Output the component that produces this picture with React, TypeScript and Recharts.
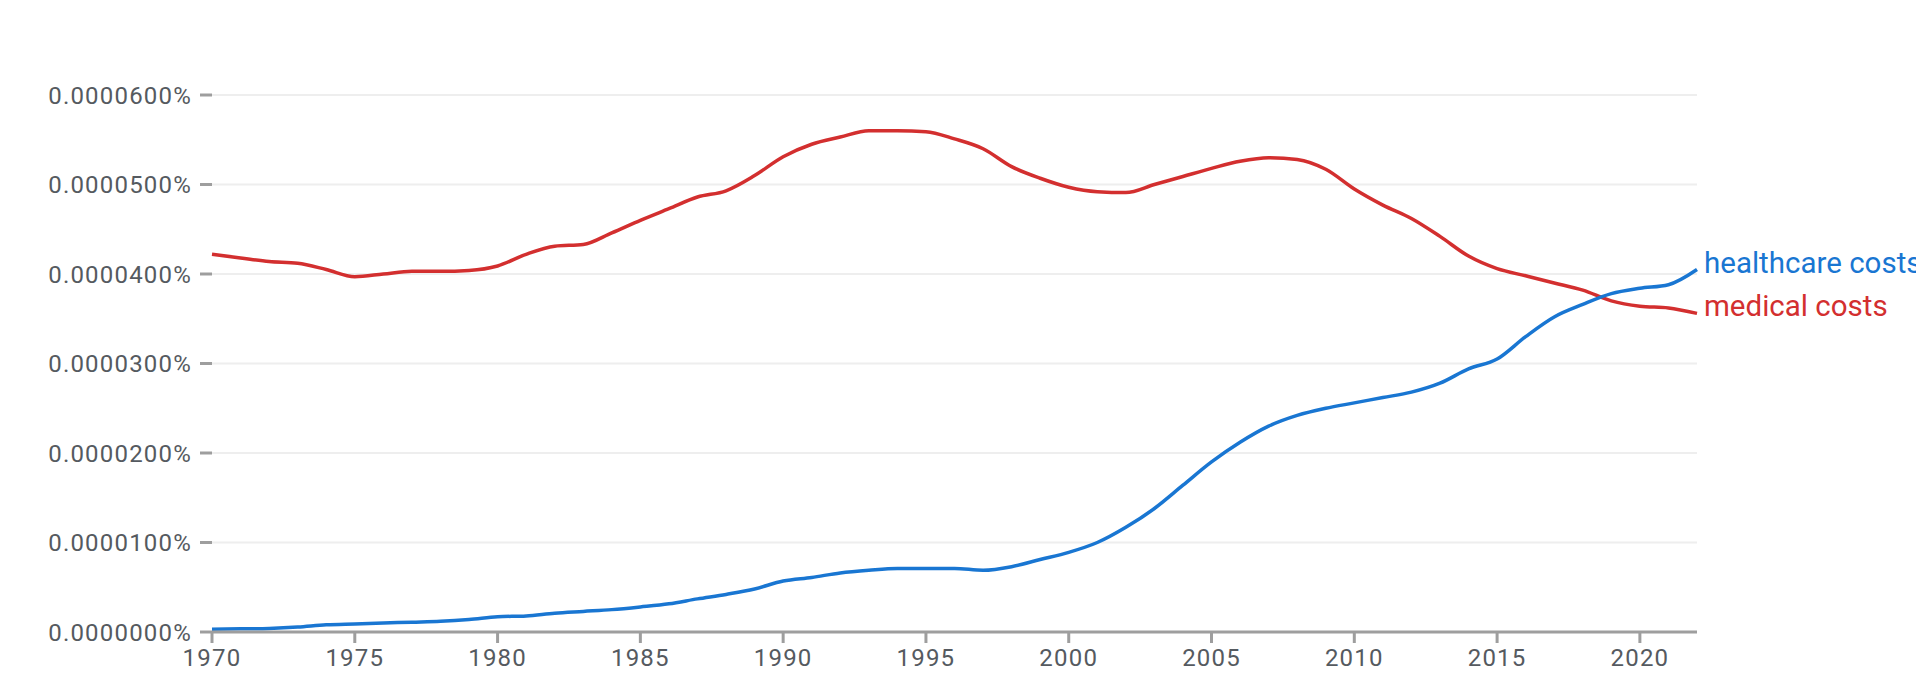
import React from 'react';
import { LineChart, Line, XAxis, YAxis, CartesianGrid } from 'recharts';

// years 1970..2022, values in percent
const years = [
  1970, 1971, 1972, 1973, 1974, 1975, 1976, 1977, 1978, 1979,
  1980, 1981, 1982, 1983, 1984, 1985, 1986, 1987, 1988, 1989,
  1990, 1991, 1992, 1993, 1994, 1995, 1996, 1997, 1998, 1999,
  2000, 2001, 2002, 2003, 2004, 2005, 2006, 2007, 2008, 2009,
  2010, 2011, 2012, 2013, 2014, 2015, 2016, 2017, 2018, 2019,
  2020, 2021, 2022,
];

const healthcareCosts = [
  0.0000003, 0.00000035, 0.0000004, 0.00000055, 0.0000008, 0.0000009, 0.000001, 0.0000011, 0.0000012, 0.0000014,
  0.0000017, 0.0000018, 0.0000021, 0.0000023, 0.0000025, 0.0000028, 0.00000315, 0.0000037, 0.0000042, 0.0000048,
  0.0000057, 0.0000061, 0.0000066, 0.0000069, 0.0000071, 0.0000071, 0.0000071, 0.0000069, 0.0000073, 0.0000081,
  0.0000089, 0.00001, 0.0000117, 0.0000138, 0.0000164, 0.000019, 0.0000212, 0.000023, 0.0000242, 0.000025,
  0.0000256, 0.0000262, 0.0000268, 0.0000278, 0.0000294, 0.0000305, 0.000033, 0.0000352, 0.0000366, 0.0000378,
  0.0000384, 0.0000388, 0.0000405,
];

const medicalCosts = [
  0.0000422, 0.0000418, 0.0000414, 0.0000412, 0.0000405, 0.0000397, 0.00004, 0.0000403, 0.0000403, 0.0000404,
  0.0000409, 0.0000422, 0.0000431, 0.0000433, 0.0000446, 0.000046, 0.0000473, 0.0000486, 0.0000493, 0.000051,
  0.0000531, 0.0000545, 0.0000553, 0.000056, 0.000056, 0.0000559, 0.0000551, 0.000054, 0.000052, 0.0000507,
  0.0000497, 0.0000492, 0.0000491, 0.00005, 0.0000509, 0.0000518, 0.0000526, 0.000053, 0.0000528, 0.0000517,
  0.0000495, 0.0000477, 0.0000462, 0.0000442, 0.000042, 0.0000406, 0.0000398, 0.000039, 0.0000382, 0.000037,
  0.0000364, 0.0000362, 0.0000356,
];

const yTicks = [0, 0.00001, 0.00002, 0.00003, 0.00004, 0.00005, 0.00006];
const xTicks = [1970, 1975, 1980, 1985, 1990, 1995, 2000, 2005, 2010, 2015, 2020];

const BLUE = '#1976d2';
const RED = '#d32f2f';
const AXIS = '#9e9e9e';
const TEXT = '#555a60';

const data = years.map((year, i) => ({
  year,
  healthcare: healthcareCosts[i],
  medical: medicalCosts[i],
}));

const endLabel = (name: string, color: string) => (props: any) => {
  if (props.index !== years.length - 1) return null;
  return (
    <text
      x={props.x + 7}
      y={props.y + 3}
      fill={color}
      fontSize={29.5}
      fontFamily="Roboto"
    >
      {name}
    </text>
  );
};

const tickStyle = { fill: TEXT, fontSize: 24, fontFamily: 'Roboto', letterSpacing: 1.2 };

export default function App() {
  return (
    <LineChart
      width={1916}
      height={672}
      data={data}
      margin={{ top: 87, right: 227, bottom: 0, left: 0 }}
    >
      <CartesianGrid vertical={false} stroke="#eeeeee" strokeWidth={2} />
      <XAxis
        dataKey="year"
        type="number"
        domain={[1970, 2022]}
        ticks={xTicks}
        height={48}
        stroke={AXIS}
        strokeWidth={3}
        tickSize={11}
        tickMargin={6}
        tick={tickStyle}
      />
      <YAxis
        type="number"
        domain={[0, 0.00006]}
        ticks={yTicks}
        width={204}
        axisLine={false}
        tickLine={{ stroke: AXIS, strokeWidth: 3 }}
        tickSize={12}
        tickMargin={8}
        tick={tickStyle}
        tickFormatter={(v: number) => v.toFixed(7) + '%'}
      />
      <Line
        type="monotone"
        dataKey="medical"
        stroke={RED}
        strokeWidth={3.5}
        dot={false}
        isAnimationActive={false}
        label={endLabel('medical costs', RED)}
      />
      <Line
        type="monotone"
        dataKey="healthcare"
        stroke={BLUE}
        strokeWidth={3.5}
        dot={false}
        isAnimationActive={false}
        label={endLabel('healthcare costs', BLUE)}
      />
    </LineChart>
  );
}
